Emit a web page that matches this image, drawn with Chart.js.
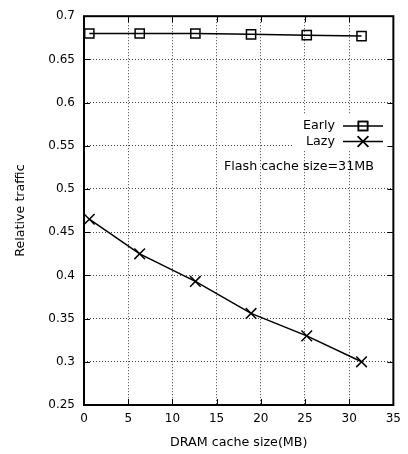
<!DOCTYPE html>
<html>
<head>
<meta charset="utf-8">
<script src="https://cdn.jsdelivr.net/npm/chart.js@4/dist/chart.umd.min.js"></script>
<style>
html,body{margin:0;padding:0;background:#fff;}
#wrap{width:408px;height:454px;position:relative;}
</style>
</head>
<body>
<div id="wrap"><canvas id="c" width="408" height="454"></canvas></div>
<script>
// ---- data ----
const dramSizes = [0.6, 6.3, 12.6, 18.9, 25.2, 31.4];
const earlyValues = [0.680, 0.680, 0.680, 0.679, 0.678, 0.677];
const lazyValues = [0.465, 0.425, 0.393, 0.356, 0.330, 0.300];
const xTicks = [0, 5, 10, 15, 20, 25, 30, 35];
const yTicks = [0.25, 0.3, 0.35, 0.4, 0.45, 0.5, 0.55, 0.6, 0.65, 0.7];
const seriesNames = ['Early', 'Lazy'];
const xTitle = 'DRAM cache size(MB)';
const yTitle = 'Relative traffic';
const noteText = 'Flash cache size=31MB';

const FONT = 'DejaVu Sans';
const TXT = 12.7;

const framePlugin = {
  id: 'frame',
  beforeDatasetsDraw(chart) {
    const ctx = chart.ctx;
    // opaque key box
    ctx.save();
    ctx.fillStyle = '#fff';
    ctx.fillRect(292, 114, 101, 36);
    ctx.restore();
  },
  afterDraw(chart) {
    const ctx = chart.ctx;
    const a = chart.chartArea;
    const xs = chart.scales.x, ys = chart.scales.y;
    ctx.save();
    ctx.strokeStyle = '#000';
    ctx.lineWidth = 1;
    const tl = 6;
    ctx.beginPath();
    xTicks.forEach(v => {
      const px = Math.round(xs.getPixelForValue(v)) + 0.5;
      ctx.moveTo(px, a.bottom); ctx.lineTo(px, a.bottom - tl);
      ctx.moveTo(px, a.top); ctx.lineTo(px, a.top + tl);
    });
    yTicks.forEach(v => {
      const py = Math.round(ys.getPixelForValue(v)) + 0.5;
      ctx.moveTo(a.left, py); ctx.lineTo(a.left + tl, py);
      ctx.moveTo(a.right, py); ctx.lineTo(a.right - tl, py);
    });
    ctx.stroke();
    ctx.lineWidth = 2;
    ctx.strokeRect(a.left, a.top, a.right - a.left, a.bottom - a.top);

    // legend
    ctx.font = TXT + 'px "' + FONT + '"';
    ctx.textAlign = 'right';
    ctx.textBaseline = 'middle';
    const rows = [126, 141.5];
    chart.data.datasets.forEach((ds, i) => {
      const y = rows[i];
      ctx.fillStyle = '#000';
      ctx.fillText(ds.label, 335, y);
      ctx.lineWidth = 1.5;
      ctx.strokeStyle = '#000';
      ctx.beginPath();
      ctx.moveTo(343, y); ctx.lineTo(383, y);
      ctx.stroke();
      ctx.fillStyle = 'rgba(0,0,0,0)';
      Chart.helpers.drawPoint(ctx, {pointStyle: ds.pointStyle, radius: ds.pointRadius, borderWidth: 1.5}, 363, y);
      ctx.stroke();
    });
    ctx.fillStyle = '#000';
    ctx.textAlign = 'left';
    ctx.fillText(noteText, 224, 166.5);
    ctx.restore();
  }
};

new Chart(document.getElementById('c'), {
  type: 'line',
  data: {
    datasets: [
      {
        label: seriesNames[0],
        data: dramSizes.map((x, i) => ({x, y: earlyValues[i]})),
        borderColor: '#000', backgroundColor: 'rgba(0,0,0,0)',
        borderWidth: 1.5, pointStyle: 'rect', pointRadius: 6.5,
        pointBorderWidth: 1.5, pointBorderColor: '#000', pointBackgroundColor: 'rgba(0,0,0,0)',
        tension: 0
      },
      {
        label: seriesNames[1],
        data: dramSizes.map((x, i) => ({x, y: lazyValues[i]})),
        borderColor: '#000', backgroundColor: 'rgba(0,0,0,0)',
        borderWidth: 1.5, pointStyle: 'crossRot', pointRadius: 7.5,
        pointBorderWidth: 1.5, pointBorderColor: '#000', pointBackgroundColor: 'rgba(0,0,0,0)',
        tension: 0
      }
    ]
  },
  options: {
    responsive: false,
    animation: false,
    devicePixelRatio: 1,
    layout: {padding: {top: 7, right: 13, left: 0, bottom: 0}},
    plugins: {legend: {display: false}, tooltip: {enabled: false}},
    scales: {
      x: {
        type: 'linear', min: 0, max: 35,
        afterBuildTicks: s => { s.ticks = xTicks.map(v => ({value: v})); },
        afterFit: s => { s.height = 49; },
        ticks: {color: '#000', font: {family: FONT, size: 12}, padding: 7, maxRotation: 0,
                callback: v => String(v)},
        grid: {color: '#444', lineWidth: 1, drawTicks: false},
        border: {display: false, dash: [1, 2]},
        title: {display: true, text: xTitle, color: '#000', font: {family: FONT, size: TXT}, padding: {top: 2, bottom: 4}}
      },
      y: {
        type: 'linear', min: 0.25, max: 0.7,
        afterBuildTicks: s => { s.ticks = yTicks.map(v => ({value: v})); },
        afterFit: s => { s.width = 84; },
        ticks: {color: '#000', font: {family: FONT, size: 12}, padding: 9,
                callback: v => String(Number(v.toFixed(2)))},
        grid: {color: '#444', lineWidth: 1, drawTicks: false},
        border: {display: false, dash: [1, 2]},
        title: {display: true, text: yTitle, color: '#000', font: {family: FONT, size: TXT}, padding: {top: 13, bottom: 0}}
      }
    }
  },
  plugins: [framePlugin]
});
</script>
</body>
</html>
